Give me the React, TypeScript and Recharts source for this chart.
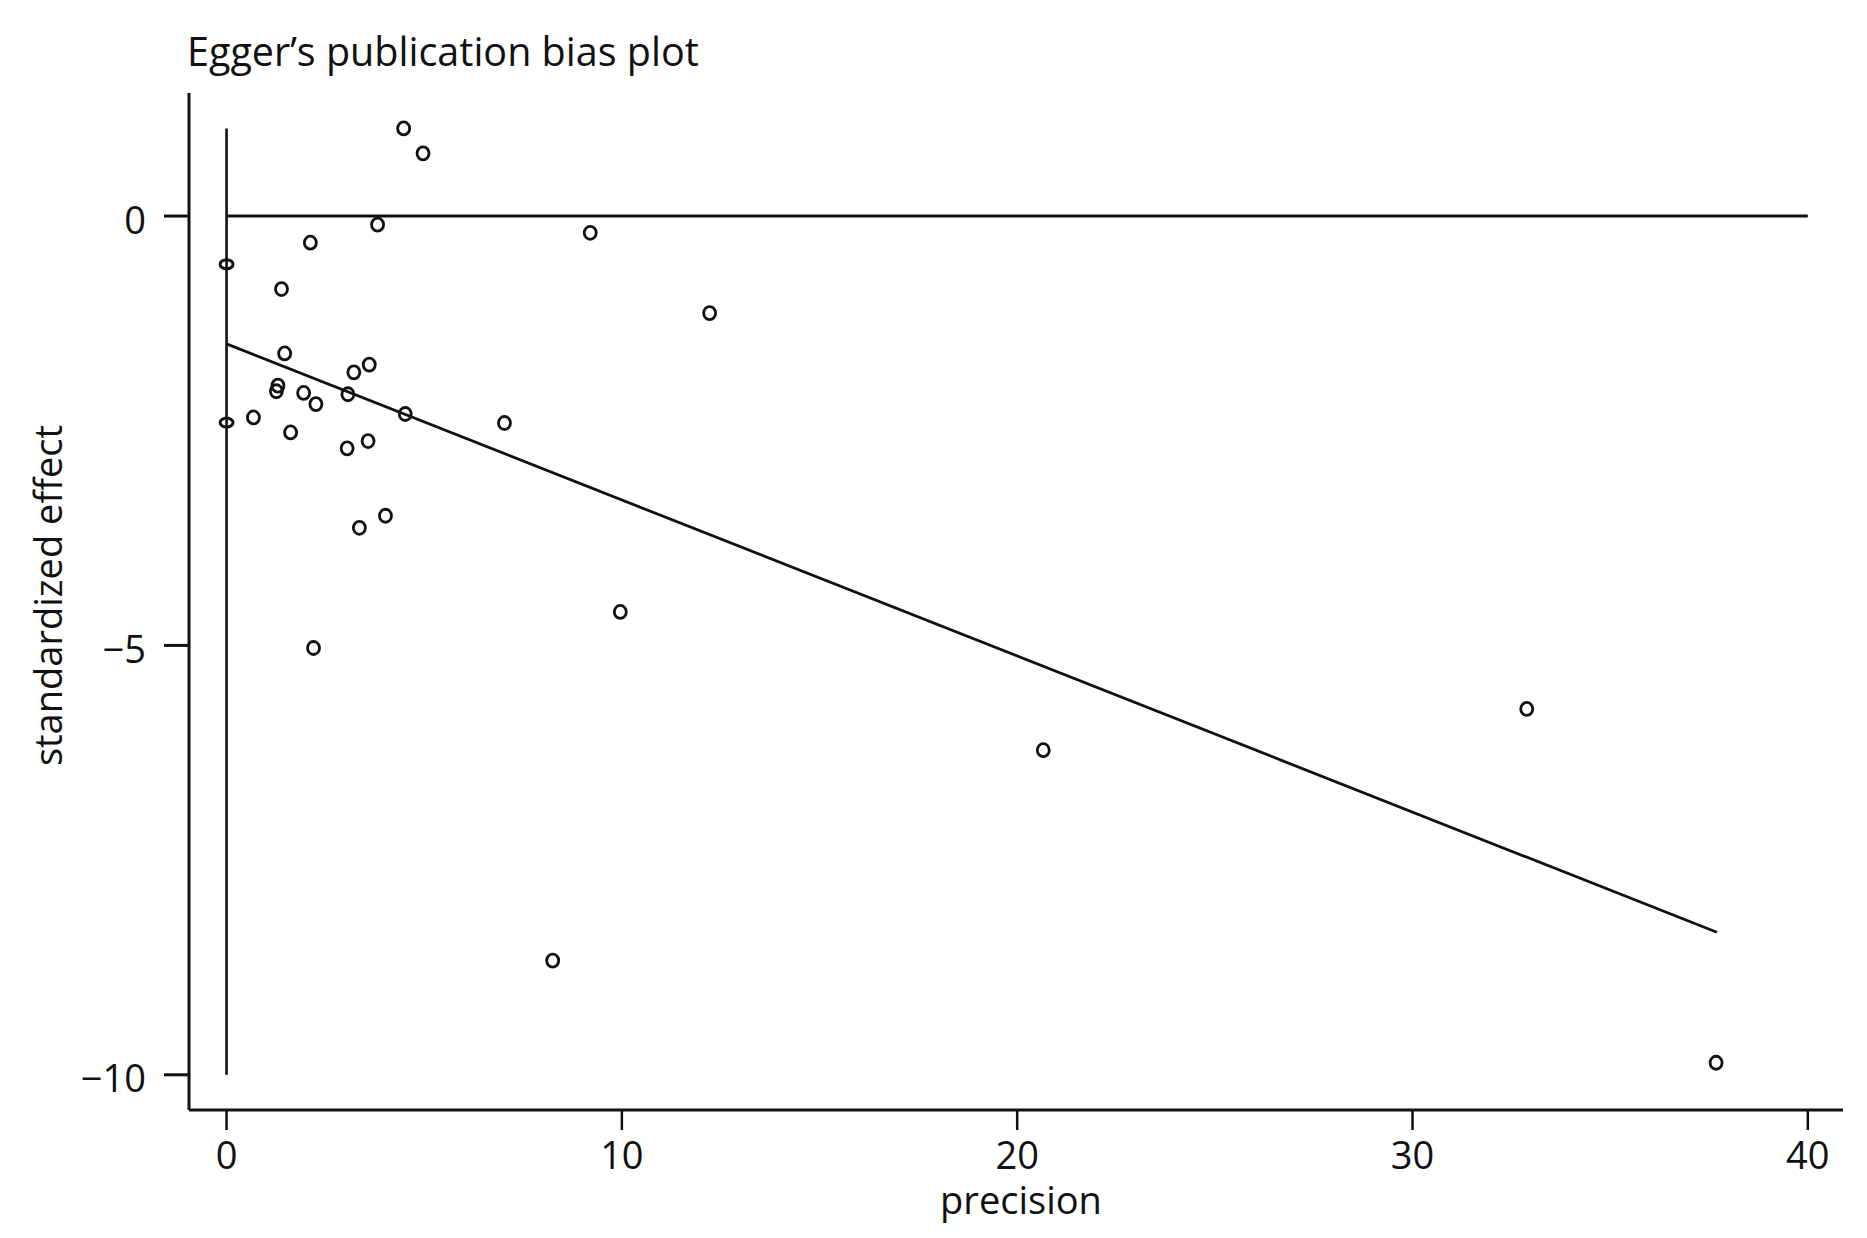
import React from "react";
import {
  ScatterChart,
  Scatter,
  XAxis,
  YAxis,
  ReferenceLine,
} from "recharts";

const FONT = "'Open Sans', 'Noto Sans', sans-serif";
const INK = "#111";

// study precision (1/se) and standardized effect (est/se)
const precision = [
  4.48, 4.97, 3.82, 2.12, 9.2, 1.39, 12.22, 1.47, 3.61, 3.22, 1.3, 1.26, 1.95,
  3.07, 2.26, 4.52, 0.68, 7.03, 1.62, 3.58, 3.05, 4.02, 3.36, 9.96, 2.2, 20.66,
  32.89, 8.25, 37.68,
];
const stdEffect = [
  1.02, 0.73, -0.1, -0.31, -0.195, -0.85, -1.13, -1.6, -1.73, -1.82, -1.975,
  -2.04, -2.06, -2.075, -2.19, -2.305, -2.345, -2.41, -2.52, -2.62, -2.705,
  -3.49, -3.63, -4.61, -5.03, -6.22, -5.74, -8.67, -9.86,
];

// Egger regression line and CI of the intercept
const fitX = [0, 37.7];
const fitY = [-1.489, -8.34];
const ciBounds = [-0.561, -2.405];
const ciSpan = [-10, 1.02];

const xTicks = [0, 10, 20, 30, 40];
const yTicks = [-10, -5, 0];

const points = precision.map((x, i) => ({ x, y: stdEffect[i] }));
const fitLine = fitX.map((x, i) => ({ x, y: fitY[i] }));
const ciPoints = ciBounds.map((y) => ({ x: 0, y }));

const OpenCircle = (props: any) => (
  <ellipse
    cx={props.cx}
    cy={props.cy}
    rx={6}
    ry={6.5}
    fill="none"
    stroke={INK}
    strokeWidth={2.8}
  />
);

const CiMark = (props: any) => (
  <ellipse
    cx={props.cx}
    cy={props.cy}
    rx={6.5}
    ry={4.5}
    fill="none"
    stroke={INK}
    strokeWidth={3}
  />
);

const minus = (v: number) => String(v).replace("-", "\u2212");

export default function App() {
  return (
    <div style={{ position: "relative", width: 1851, height: 1222 }}>
      <div
        style={{
          position: "absolute",
          left: 179,
          top: 24,
          fontFamily: FONT,
          fontSize: 39.5,
          lineHeight: "39px",
          color: INK,
          whiteSpace: "nowrap",
        }}
      >
        Egger’s publication bias plot
      </div>
      <ScatterChart
        width={1851}
        height={1222}
        margin={{ top: 85, right: 16, bottom: 0, left: 0 }}
      >
        <XAxis
          type="number"
          dataKey="x"
          domain={[-0.95, 40.89]}
          ticks={xTicks}
          tickSize={20}
          tickMargin={12}
          height={120}
          stroke={INK}
          axisLine={{ stroke: INK, strokeWidth: 3 }}
          tickLine={{ stroke: INK, strokeWidth: 2.5 }}
          tick={{ fill: INK, fontSize: 38, fontFamily: FONT }}
          label={{
            content: (p: any) => (
              <text
                x={p.viewBox.x + p.viewBox.width / 2 + 5}
                y={p.viewBox.y + 104}
                textAnchor="middle"
                fill={INK}
                fontSize={38}
                fontFamily={FONT}
              >
                precision
              </text>
            ),
          }}
        />
        <YAxis
          type="number"
          dataKey="y"
          domain={[-10.41, 1.433]}
          ticks={yTicks}
          tickFormatter={minus}
          tickSize={25}
          tickMargin={18}
          width={181}
          stroke={INK}
          axisLine={{ stroke: INK, strokeWidth: 3 }}
          tickLine={{ stroke: INK, strokeWidth: 3 }}
          tick={{ fill: INK, fontSize: 38, fontFamily: FONT, dy: 4 }}
          label={{
            content: (p: any) => {
              const cx = 54;
              const cy = p.viewBox.y + p.viewBox.height / 2 - 6;
              return (
                <text
                  x={cx}
                  y={cy}
                  transform={`rotate(-90 ${cx} ${cy})`}
                  textAnchor="middle"
                  fill={INK}
                  fontSize={38}
                  fontFamily={FONT}
                >
                  standardized effect
                </text>
              );
            },
          }}
        />
        <ReferenceLine
          segment={[
            { x: 0, y: 0 },
            { x: 40, y: 0 },
          ]}
          stroke={INK}
          strokeWidth={3}
        />
        <ReferenceLine
          segment={[
            { x: 0, y: ciSpan[0] },
            { x: 0, y: ciSpan[1] },
          ]}
          stroke={INK}
          strokeWidth={2.6}
        />
        <Scatter
          data={fitLine}
          line={{ stroke: INK, strokeWidth: 2.8 }}
          shape={() => <g />}
          isAnimationActive={false}
        />
        <Scatter data={ciPoints} shape={CiMark} isAnimationActive={false} />
        <Scatter data={points} shape={OpenCircle} isAnimationActive={false} />
      </ScatterChart>
    </div>
  );
}
